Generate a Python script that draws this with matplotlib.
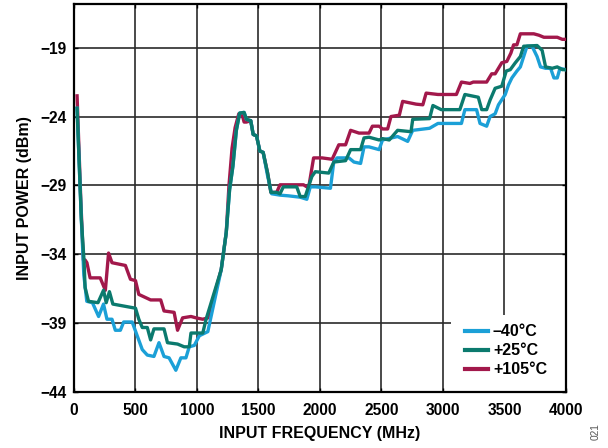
import matplotlib
matplotlib.use("Agg")
import matplotlib.pyplot as plt
from matplotlib.patches import Rectangle

# ---- data (MHz, dBm) ----
x_m40 = [25, 60, 80, 104, 150, 200, 240, 268, 309, 336, 377, 404, 473, 514, 555, 596, 650, 691,
         732, 773, 828, 869, 910, 937, 978, 1019, 1088, 1197, 1238, 1265, 1292, 1320, 1347, 1383,
         1402, 1437, 1457, 1484, 1511, 1538, 1574, 1607, 1675, 1743, 1839, 1893, 1921, 1962, 2085,
         2112, 2139, 2235, 2276, 2330, 2358, 2399, 2481, 2508, 2631, 2713, 2754, 2891, 2959, 3150,
         3178, 3273, 3301, 3355, 3383, 3424, 3451, 3506, 3533, 3560, 3601, 3629, 3656, 3683, 3724,
         3765, 3793, 3834, 3875, 3902, 3929, 3951, 3998]
y_m40 = [-23.4, -31.5, -35.5, -37.4, -37.5, -38.5, -37.6, -38.7, -38.7, -39.5, -39.5, -38.9, -38.9,
         -39.9, -40.9, -41.3, -41.4, -40.4, -41.4, -41.5, -42.4, -41.5, -41.5, -40.7, -40.6, -39.9,
         -39.6, -35.1, -32.4, -29.3, -27.6, -25.0, -23.75, -23.7, -24.2, -24.3, -25.3, -25.4, -26.5,
         -26.6, -28.3, -29.6, -29.7, -29.75, -29.85, -30.0, -29.1, -29.1, -29.2, -27.3, -27.0, -27.0,
         -27.3, -27.4, -26.2, -26.2, -26.4, -25.7, -25.45, -25.8, -25.0, -24.85, -24.5, -24.5, -23.5,
         -23.5, -24.5, -24.7, -24.0, -23.8, -23.15, -22.4, -21.7, -21.2, -20.7, -20.4, -19.65, -18.9,
         -18.9, -19.65, -20.4, -20.5, -20.5, -21.2, -21.2, -20.5, -20.6]

x_p25 = [25, 60, 82, 90, 118, 195, 240, 262, 288, 316, 500, 527, 555, 596, 623, 650, 732, 760, 842,
         896, 937, 951, 1047, 1074, 1197, 1238, 1265, 1292, 1320, 1347, 1383, 1402, 1437, 1457, 1484,
         1511, 1538, 1574, 1601, 1648, 1675, 1702, 1811, 1839, 1880, 1934, 1962, 2071, 2112, 2208,
         2249, 2330, 2358, 2399, 2481, 2508, 2563, 2631, 2740, 2754, 2891, 2918, 2986, 3137, 3178,
         3287, 3315, 3355, 3383, 3424, 3478, 3514, 3547, 3588, 3629, 3656, 3765, 3806, 3834, 3888,
         3929, 3970, 3998]
y_p25 = [-23.4, -31.5, -34.5, -36.4, -37.4, -37.5, -36.6, -37.5, -36.7, -37.6, -37.9, -38.7, -39.3,
         -39.3, -40.2, -39.4, -39.4, -40.4, -40.5, -40.7, -40.7, -39.7, -39.7, -38.7, -35.1, -32.4,
         -29.3, -27.6, -25.0, -23.75, -23.7, -24.2, -24.3, -25.3, -25.4, -26.5, -26.6, -28.1, -29.5,
         -29.5, -29.6, -29.1, -29.1, -29.8, -29.8, -28.35, -28.0, -28.1, -27.3, -27.2, -26.4, -26.4,
         -25.55, -25.5, -25.7, -25.6, -25.7, -25.0, -25.1, -24.2, -24.15, -23.2, -23.5, -23.5, -22.4,
         -22.6, -23.5, -23.5, -22.8, -21.95, -21.8, -20.7, -20.6, -20.1, -19.65, -18.9, -18.85,
         -19.2, -20.4, -20.5, -20.4, -20.6, -20.6]

x_p105 = [25, 55, 76, 90, 105, 131, 213, 255, 281, 309, 418, 459, 500, 527, 623, 705, 732, 814,
          842, 883, 951, 992, 1047, 1090, 1197, 1238, 1260, 1285, 1310, 1340, 1365, 1383, 1402,
          1437, 1457, 1484, 1511, 1538, 1574, 1601, 1648, 1675, 1866, 1893, 1907, 1948, 2017, 2099,
          2153, 2208, 2249, 2317, 2399, 2426, 2481, 2508, 2550, 2577, 2645, 2672, 2781, 2836, 2863,
          2959, 3109, 3150, 3219, 3246, 3355, 3396, 3424, 3478, 3519, 3552, 3574, 3601, 3629, 3738,
          3779, 3820, 3929, 3970, 3998]
y_p105 = [-22.5, -30.0, -34.4, -34.4, -34.6, -35.7, -35.7, -36.6, -33.9, -34.6, -34.8, -35.8, -35.9,
          -36.9, -37.3, -37.3, -38.1, -38.2, -39.5, -38.6, -38.5, -38.6, -38.7, -38.6, -35.1, -32.4,
          -29.0, -26.3, -24.8, -23.8, -23.8, -24.4, -24.4, -24.3, -25.3, -25.4, -26.5, -26.6, -28.1,
          -29.5, -29.5, -28.95, -28.95, -29.1, -29.2, -27.0, -27.0, -27.1, -26.05, -26.05, -25.0,
          -25.2, -25.2, -24.7, -24.7, -24.9, -24.9, -24.0, -23.9, -22.9, -23.1, -23.15, -22.3, -22.4,
          -22.4, -21.5, -21.6, -21.5, -21.5, -20.9, -20.9, -20.1, -20.0, -19.4, -18.8, -18.8, -18.0,
          -18.0, -18.1, -18.25, -18.25, -18.4, -18.4]

labels = ["\u201340\u00b0C", "+25\u00b0C", "+105\u00b0C"]
x_ticks = [0, 500, 1000, 1500, 2000, 2500, 3000, 3500, 4000]
y_ticks = [-44, -39, -34, -29, -24, -19]

c_blue = "#1ba0d7"
c_green = "#0b7a6e"
c_red = "#a2184b"

plt.rcParams["font.family"] = ["Liberation Sans", "DejaVu Sans"]
plt.rcParams["axes.unicode_minus"] = True

fig = plt.figure(figsize=(6.08, 4.48), dpi=100)
ax = fig.add_axes([0.1217, 0.1243, 0.8092, 0.8661])

lw = 2.4
l_red, = ax.plot(x_p105, y_p105, color=c_red, lw=lw, zorder=3)
l_blue, = ax.plot(x_m40, y_m40, color=c_blue, lw=lw, zorder=3)
l_green, = ax.plot(x_p25, y_p25, color=c_green, lw=lw, zorder=4)

ax.set_xlim(0, 4000)
ax.set_ylim(-44, -15.86)
ax.set_xticks(x_ticks)
ax.set_yticks(y_ticks)
ax.set_xticklabels([str(v) for v in x_ticks], fontweight="bold", fontsize=11.2)
ax.set_yticklabels(["\u2212" + str(abs(v)) for v in y_ticks], fontweight="bold", fontsize=11.2)
ax.tick_params(axis="both", direction="in", length=3, width=1, top=True, right=True)
ax.tick_params(axis="x", pad=7.5)
ax.tick_params(axis="y", pad=5.5)

ax.set_axisbelow(True)
ax.grid(True, color="#2b2b2b", linewidth=1.2)
for sp in ax.spines.values():
    sp.set_linewidth(1.6)
    sp.set_color("black")

ax.set_xlabel("INPUT FREQUENCY (MHz)", fontweight="bold", fontsize=11.5, labelpad=6)
ax.set_ylabel("INPUT POWER (dBm)", fontweight="bold", fontsize=11.5, labelpad=6)

# white legend area covering grid
ax.add_patch(Rectangle((0.766, 0.0), 0.234, 0.199, transform=ax.transAxes,
                       facecolor="white", edgecolor="none", zorder=2))
leg = ax.legend([l_blue, l_green, l_red], labels, loc="center",
                bbox_to_anchor=(0.878, 0.107), frameon=False,
                prop={"weight": "bold", "size": 11.5},
                handlelength=1.45, handletextpad=0.3, labelspacing=0.26,
                borderpad=0)
for h in leg.legend_handles:
    h.set_linewidth(3)
leg.set_zorder(5)

fig.text(0.979, 0.036, "021", rotation=90, fontsize=7.3, color="#555555",
         ha="center", va="center")

fig.savefig("out.png", dpi=100)
